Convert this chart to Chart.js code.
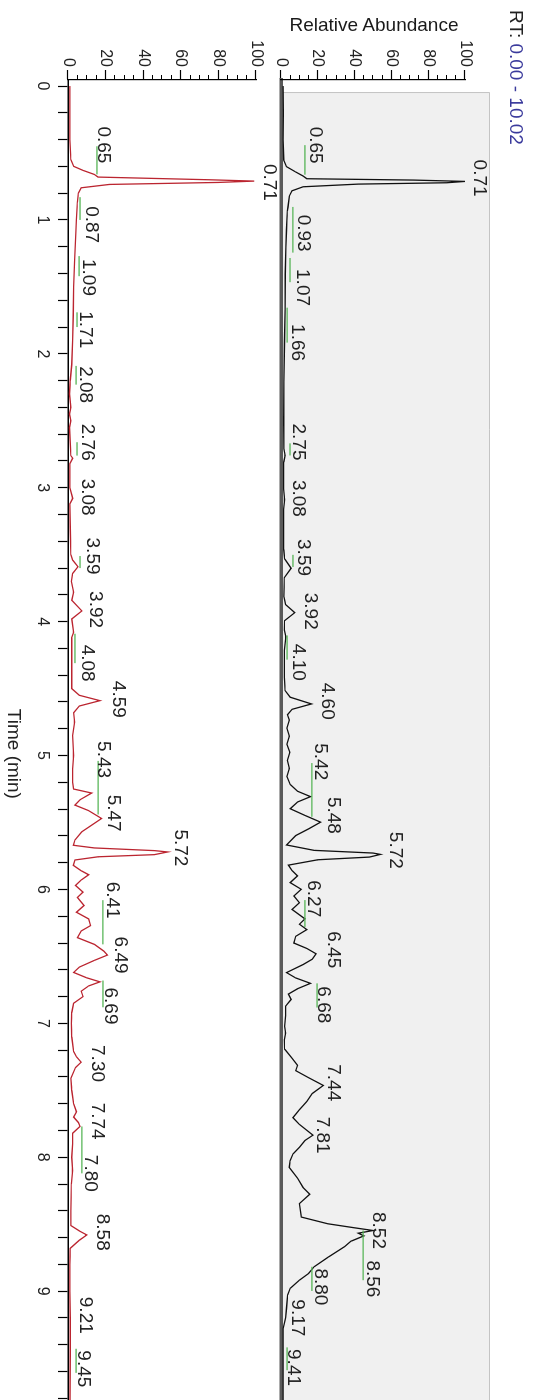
<!DOCTYPE html>
<html>
<head>
<meta charset="utf-8">
<script src="https://cdn.jsdelivr.net/npm/chart.js@4.4.1/dist/chart.umd.min.js"></script>
<style>
  html, body { margin: 0; padding: 0; background: #fff; width: 535px; height: 1400px; overflow: hidden; }
  #wrap { position: absolute; left: 0; top: 0; width: 1440px; height: 535px;
          transform-origin: 0 0; transform: translate(535px, 0) rotate(90deg); }
  #wrap canvas { position: absolute; left: 0; top: 0; }
  #rt { position: absolute; left: 10px; top: 8px; font: 19px "Liberation Sans", Arial, sans-serif; color: #3a3a9c; white-space: nowrap; }
  #rt b { font-weight: normal; color: #222; }
  #ra { position: absolute; left: 25px; top: 161px; font: 19px "Liberation Sans", Arial, sans-serif; color: #1a1a1a;
        transform: translate(-50%, -50%) rotate(-90deg); white-space: nowrap; }
</style>
</head>
<body>
<div id="wrap">
  <canvas id="topChart" width="1440" height="535"></canvas>
  <canvas id="bottomChart" width="1440" height="535"></canvas>
  <div id="rt"><b>RT:</b> 0.00 - 10.02</div>
  <div id="ra">Relative Abundance</div>
</div>
<script>
// time axis / abundance axis
var timeLabels = [0, 1, 2, 3, 4, 5, 6, 7, 8, 9, 10];
var abundanceTicks = [0, 20, 40, 60, 80, 100];

// upper trace (black)
var blackTime = [0.00, 0.20, 0.40, 0.55, 0.60, 0.64, 0.67, 0.69, 0.70, 0.71, 0.72, 0.73, 0.75, 0.78, 0.82, 0.90, 0.93, 1.00, 1.07, 1.20,
  1.40, 1.66, 1.90, 2.20, 2.50, 2.70, 2.75, 2.80, 3.00, 3.08, 3.15, 3.45, 3.52, 3.59, 3.66, 3.80, 3.86, 3.92, 3.98, 4.05,
  4.10, 4.20, 4.40, 4.50, 4.55, 4.60, 4.64, 4.68, 4.72, 4.78, 4.84, 4.90, 4.96, 5.02, 5.08, 5.14, 5.20, 5.25, 5.29, 5.33,
  5.38, 5.43, 5.48, 5.53, 5.58, 5.65, 5.69, 5.71, 5.72, 5.74, 5.76, 5.80, 5.84, 5.88, 5.93, 5.98, 6.03, 6.08, 6.13, 6.20,
  6.24, 6.28, 6.33, 6.38, 6.42, 6.46, 6.50, 6.54, 6.60, 6.64, 6.68, 6.72, 6.76, 6.80, 6.85, 6.92, 7.00, 7.05, 7.10, 7.17,
  7.23, 7.29, 7.33, 7.38, 7.44, 7.50, 7.56, 7.62, 7.68, 7.73, 7.81, 7.85, 7.90, 7.95, 8.00, 8.05, 8.13, 8.20, 8.25, 8.32,
  8.42, 8.47, 8.50, 8.52, 8.54, 8.56, 8.60, 8.64, 8.72, 8.79, 8.84, 8.89, 8.95, 9.00, 9.10, 9.17, 9.25, 9.41, 9.60, 10.02];
var blackAbundance = [1.2, 1.3, 1.2, 1.5, 3, 8, 12, 14, 72, 100, 90, 42, 12, 6, 4.5, 3.8, 3.5, 3.2, 3.0, 2.6,
  2.3, 2.2, 1.9, 1.6, 1.5, 1.6, 2.2, 1.5, 1.4, 2.0, 1.4, 1.5, 2.0, 5.5, 1.8, 1.6, 2.5, 7.5, 2.0, 1.8,
  2.6, 1.8, 1.8, 2.2, 5, 16.5, 6, 3.5, 4.5, 3.2, 4.5, 3.2, 4.8, 3.5, 4.5, 3.2, 5, 9, 16, 9,
  5, 13, 21.5, 15, 8, 3, 18, 50, 54, 48, 20, 4, 6, 9, 5, 11, 7, 10, 6, 13,
  10, 14, 8, 7, 14, 19, 17, 12, 3, 8, 16, 9, 4, 5.5, 2.5, 2.5, 2, 2.5, 1.8, 2,
  5.6, 9, 8, 14.7, 23, 17, 14, 10, 6.5, 10, 17.4, 13, 10, 6.5, 5, 4.5, 9, 12, 15.6, 10,
  11, 25.5, 40, 50, 42, 45, 38, 34.6, 25.5, 18, 15, 10, 5, 3.6, 3, 2.5, 1.2, 1.2, 1.2, 1.2];

// lower trace (red)
var redTime = [0.00, 0.40, 0.55, 0.60, 0.63, 0.66, 0.68, 0.70, 0.71, 0.72, 0.735, 0.76, 0.80, 0.87, 1.00, 1.09, 1.30, 1.50, 1.71, 1.90,
  2.08, 2.20, 2.30, 2.40, 2.45, 2.50, 2.55, 2.76, 2.78, 2.82, 3.00, 3.08, 3.12, 3.30, 3.50, 3.54, 3.59, 3.64, 3.70, 3.78,
  3.84, 3.92, 3.98, 4.08, 4.12, 4.30, 4.50, 4.55, 4.59, 4.63, 4.68, 4.75, 4.85, 5.00, 5.10, 5.20, 5.25, 5.28, 5.33, 5.37,
  5.41, 5.47, 5.52, 5.57, 5.63, 5.67, 5.69, 5.71, 5.72, 5.74, 5.756, 5.78, 5.82, 5.86, 5.89, 5.93, 5.97, 6.02, 6.06, 6.12,
  6.17, 6.22, 6.27, 6.31, 6.36, 6.41, 6.46, 6.49, 6.53, 6.58, 6.62, 6.66, 6.69, 6.72, 6.76, 6.80, 6.85, 6.92, 7.00, 7.10,
  7.21, 7.25, 7.29, 7.33, 7.41, 7.50, 7.60, 7.66, 7.70, 7.74, 7.77, 7.82, 7.90, 8.00, 8.10, 8.20, 8.40, 8.51, 8.55, 8.58,
  8.62, 8.68, 8.80, 9.00, 9.21, 9.45, 10.02];
var redAbundance = [1, 1, 1.5, 3, 8, 14, 16, 75, 99, 80, 22, 7, 5.5, 5, 4.5, 4.2, 3.5, 3, 2.8, 2.5,
  2, 1.2, 0.8, 1.5, 0.8, 1.5, 0.8, 1.5, 2.5, 1, 1, 2.5, 1, 1.2, 1.5, 2.5, 5.3, 2.5, 1.8, 3,
  2, 7.4, 2, 3, 2, 2, 2, 6, 17, 6, 3, 3.5, 2.5, 3, 2.5, 2.5, 3, 12.6, 6.4, 3.7,
  10.8, 17.9, 12.6, 7.3, 3.7, 2.8, 14, 46, 53, 46, 16, 3.7, 2.8, 7, 11, 7, 4, 8, 5, 8.5,
  4.5, 11, 12, 7, 5, 14, 19, 21, 14, 6, 3, 10, 17, 11, 7, 8, 3, 2, 1.8, 2,
  3, 4.5, 7, 4, 1.5, 2, 3, 4.5, 3, 5.5, 6.4, 2.5, 2.5, 2, 2.5, 1.8, 1.5, 1.5, 6, 10,
  6, 1.2, 1, 1, 1.2, 1.2, 1];

// peak labels: text, time of text centre, abundance of text centre
var blackPeakText = ['0.65', '0.71', '0.93', '1.07', '1.66', '2.75', '3.08', '3.59', '3.92', '4.10', '4.60', '5.42',
  '5.48', '5.72', '6.27', '6.45', '6.68', '7.44', '7.81', '8.52', '8.56', '8.80', '9.17', '9.41'];
var blackPeakT = [0.44, 0.685, 1.095, 1.5, 1.91, 2.65, 3.07, 3.51, 3.91, 4.29, 4.58, 5.03,
  5.43, 5.69, 6.05, 6.43, 6.84, 7.42, 7.81, 8.52, 8.88, 8.94, 9.17, 9.54];
var blackPeakA = [18.5, 108, 12, 11.4, 8.7, 9.2, 9.2, 12, 15.8, 9.2, 25, 21.2,
  28.3, 62, 17.4, 28.3, 22.8, 28.3, 22.3, 52.7, 49.5, 21.2, 8.7, 6.5];
var blackLeaders = [[0.44, 0.66, 13], [0.9, 1.24, 6.5], [1.28, 1.46, 4.9], [1.65, 1.91, 3.3], [2.66, 2.75, 4.9],
  [3.49, 3.58, 6.5], [4.09, 4.27, 3.3], [5.04, 5.44, 16.8], [6.06, 6.26, 13], [6.68, 6.86, 19.6],
  [8.52, 8.89, 44.6], [8.79, 8.97, 16.8], [9.39, 9.56, 3.3]];

var redPeakText = ['0.65', '0.71', '0.87', '1.09', '1.71', '2.08', '2.76', '3.08', '3.59', '3.92', '4.08', '4.59',
  '5.43', '5.47', '5.72', '6.41', '6.49', '6.69', '7.30', '7.74', '7.80', '8.58', '9.21', '9.45'];
var redPeakT = [0.44, 0.72, 1.035, 1.43, 1.82, 2.23, 2.66, 3.07, 3.51, 3.91, 4.31, 4.58,
  5.03, 5.43, 5.69, 6.08, 6.49, 6.87, 7.30, 7.73, 8.12, 8.56, 9.18, 9.58];
var redPeakA = [18.6, 107, 12.2, 10.6, 9, 9, 10, 10, 12.8, 14.4, 10, 26.6,
  18.6, 24, 59.6, 23.4, 27.7, 22.3, 15.4, 15.4, 11.7, 18, 9, 8];
var redLeaders = [[0.45, 0.66, 15.4], [0.83, 1.0, 6.4], [1.27, 1.42, 5.9], [1.69, 1.8, 4.8], [2.09, 2.23, 4.3],
  [2.66, 2.76, 4.8], [3.51, 3.6, 6.4], [4.09, 4.31, 3.7], [5.04, 5.44, 16], [6.08, 6.41, 18.6],
  [6.68, 6.88, 18.6], [7.77, 8.12, 7.4], [9.43, 9.61, 4.3]];

var FONT = '"Liberation Sans", Arial, sans-serif';

function toPoints(ts, as) {
  return ts.map(function(t, i) { return {x: t, y: as[i]}; });
}

function peakPlugin(texts, ts, as, leaders) {
  return {
    id: 'peakLabels',
    afterDatasetsDraw: function(chart) {
      var ctx = chart.ctx, x = chart.scales.x, y = chart.scales.y;
      ctx.save();
      ctx.strokeStyle = '#55b455';
      ctx.lineWidth = 1.3;
      leaders.forEach(function(l) {
        ctx.beginPath();
        ctx.moveTo(x.getPixelForValue(l[0]), y.getPixelForValue(l[2]));
        ctx.lineTo(x.getPixelForValue(l[1]), y.getPixelForValue(l[2]));
        ctx.stroke();
      });
      ctx.fillStyle = '#222';
      ctx.font = '19px ' + FONT;
      ctx.textAlign = 'center';
      ctx.textBaseline = 'middle';
      texts.forEach(function(s, i) {
        ctx.fillText(s, x.getPixelForValue(ts[i]), y.getPixelForValue(as[i]));
      });
      ctx.restore();
    }
  };
}

var grayBox = {
  id: 'grayBox',
  beforeDraw: function(chart) {
    var ctx = chart.ctx, x = chart.scales.x, y = chart.scales.y;
    var left = x.getPixelForValue(0) + 6, top = y.getPixelForValue(100) - 25, bottom = y.getPixelForValue(0);
    ctx.save();
    ctx.fillStyle = '#f0f0f0';
    ctx.fillRect(left, top, chart.width - left, bottom - top);
    ctx.strokeStyle = '#c4c4c4';
    ctx.lineWidth = 1;
    ctx.beginPath();
    ctx.moveTo(left + 0.5, bottom);
    ctx.lineTo(left + 0.5, top + 0.5);
    ctx.lineTo(chart.width, top + 0.5);
    ctx.stroke();
    ctx.restore();
  }
};

function makeOptions(showTime, padTop, padBottom) {
  return {
    responsive: false,
    animation: false,
    devicePixelRatio: 1,
    layout: {padding: {left: 0, right: 8, top: padTop, bottom: padBottom}},
    plugins: {legend: {display: false}, tooltip: {enabled: false}},
    elements: {point: {radius: 0}, line: {tension: 0}},
    scales: {
      x: {
        type: 'linear', position: 'bottom', min: -0.045, max: 10.02,
        ticks: {
          display: showTime, stepSize: 0.2, includeBounds: false, autoSkip: false, maxRotation: 0,
          color: '#222', font: {size: 16, family: FONT}, padding: 6,
          callback: function(v) {
            var r = Math.round(v);
            return (Math.abs(v - r) < 1e-6 && timeLabels.indexOf(r) >= 0) ? String(r) : '';
          }
        },
        grid: {display: showTime, drawOnChartArea: false, tickLength: 10, color: '#000', tickWidth: 1.2},
        border: showTime ? {display: true, color: '#000', width: 1.5} : {display: true, color: '#5a5a5a', width: 3.5},
        title: {display: showTime, text: 'Time (min)', color: '#222', font: {size: 19, family: FONT}, padding: {top: 0, bottom: 2}},
        afterFit: function(s) { s.height = showTime ? 68 : 0; }
      },
      y: {
        position: 'left', min: 0, max: 100, weight: 10,
        afterBuildTicks: function(s) { s.ticks = abundanceTicks.map(function(v) { return {value: v}; }); },
        ticks: {color: '#222', font: {size: 16, family: FONT}, padding: 3},
        grid: {drawOnChartArea: false, tickLength: 10, color: '#000', tickWidth: 1.2},
        border: {display: true, color: '#000', width: 1.2},
        afterFit: function(s) { s.width = 80; }
      },
      yMinor: {
        position: 'left', min: 0, max: 100, weight: 0,
        ticks: {display: false, stepSize: 5},
        grid: {drawOnChartArea: false, tickLength: 5, color: '#000', tickWidth: 1},
        border: {display: false},
        afterFit: function(s) { s.width = 0; }
      }
    }
  };
}

new Chart(document.getElementById('topChart'), {
  type: 'line',
  data: {datasets: [{data: toPoints(blackTime, blackAbundance), borderColor: '#111', borderWidth: 1.3, fill: false, yAxisID: 'y'}]},
  options: makeOptions(false, 70, 281),
  plugins: [grayBox, peakPlugin(blackPeakText, blackPeakT, blackPeakA, blackLeaders)]
});

new Chart(document.getElementById('bottomChart'), {
  type: 'line',
  data: {datasets: [{data: toPoints(redTime, redAbundance), borderColor: '#bb2530', borderWidth: 1.3, fill: false, yAxisID: 'y'}]},
  options: makeOptions(true, 279, 0),
  plugins: [peakPlugin(redPeakText, redPeakT, redPeakA, redLeaders)]
});
</script>
</body>
</html>
